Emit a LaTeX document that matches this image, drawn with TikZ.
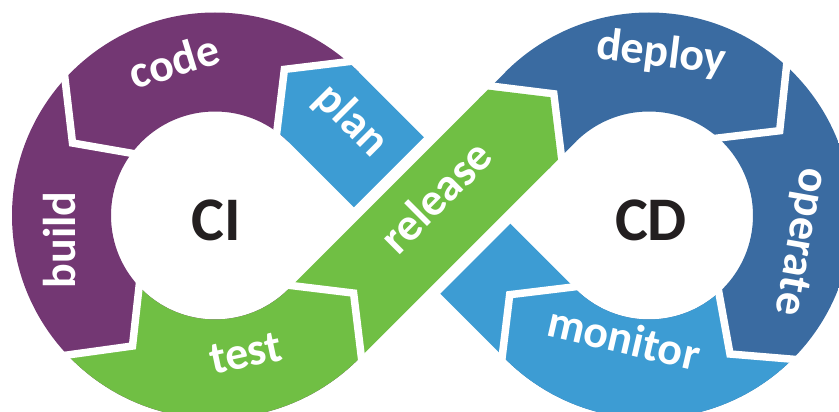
\documentclass[tikz,border=0pt]{standalone}
\usepackage{fontspec}
\setmainfont{Carlito}
\definecolor{cpurple}{HTML}{733773}
\definecolor{clblue}{HTML}{3D9CD3}
\definecolor{cdblue}{HTML}{3A6BA1}
\definecolor{cgreen}{HTML}{70BF44}
\definecolor{cdark}{HTML}{231F20}
\begin{document}
\begin{tikzpicture}[x=1pt,y=-1pt,
  gapline/.style={white,line width=7.5pt,line join=miter,line cap=butt},
  crossgap/.style={white,line width=23pt,line cap=butt},
  lbl/.style={white,font=\fontsize{46}{46}\selectfont\bfseries,anchor=mid,inner sep=0pt},
  big/.style={cdark,font=\fontsize{62}{62}\selectfont\bfseries,inner sep=0pt}]
\useasboundingbox (0,0) rectangle (839,412);
\coordinate (L) at (215,215.5);
\coordinate (R) at (649,215.5);
% ---------- left ring
\begin{scope}[even odd rule]
  \clip (215,215.5) -- (815,-384.5) -- (-500,-384.5) -- (-500,815.5) -- (815,815.5) -- cycle;
  \clip (L) circle (203pt) (L) circle (104pt);
  \fill[cpurple] (-10,-10) rectangle (500,500);
  \fill[cgreen] (141,269.3) -- (132.5,346) -- (48,357.7) -- (40,450) -- (450,450) -- (450,269.3) -- cycle;
  \fill[clblue] (273.8,156.8) -- (284.4,69.4) -- (371.8,58.8) -- (450,0) -- (450,200) -- cycle;
\end{scope}
% ---------- right ring
\begin{scope}[even odd rule]
  \clip (649,215.5) -- (49,-384.5) -- (1500,-384.5) -- (1500,815.5) -- (49,815.5) -- cycle;
  \clip (R) circle (203pt) (R) circle (104pt);
  \fill[cdblue] (400,-10) rectangle (900,500);
  \fill[clblue] (715.7,275.1) -- (730,354) -- (808,360.5) -- (850,450) -- (400,450) -- (400,275.1) -- cycle;
\end{scope}
% ---------- blue band (plan / monitor)
\fill[clblue] (287.8,141.2) -- (357.8,71.2) -- (576.3,289.7) -- (506.3,359.7) -- cycle;
% ---------- end of green band belonging to deploy
\fill[cdblue] (478.8,98.8) -- (506.3,71.3) -- (576.3,141.3) -- (548.8,168.8) -- cycle;
% ---------- chevron gaps
\draw[gapline] (273.8,156.8) -- (284.4,69.4) -- (371.8,58.8);
\draw[gapline] (147.25,156) -- (72.5,143) -- (62.75,59.8);
\draw[gapline] (141,269.3) -- (132.5,346) -- (48,357.7);
\draw[gapline] (699.9,140.2) -- (779.7,130.7) -- (788.3,49.6);
\draw[gapline] (715.7,275.1) -- (730,354) -- (808,360.5);
\draw[gapline] (597.1,284.1) -- (509.7,294.7) -- (499.1,382.1);
% ---------- gaps around the green band
\draw[crossgap] (348.8,228.8) -- (443.8,133.8);
\draw[crossgap] (418.8,298.8) -- (513.8,203.8);
\draw[white,line width=15pt,line join=miter] (456.8,85.6) -- (550.4,97.2) -- (561.8,190.8);
% ---------- green band (test / release)
\fill[cgreen] (288.05,289.55) -- (488,89.6) -- (550.4,97.2) -- (558,159.6) -- (358.05,359.55) -- cycle;
\draw[gapline] (266.2,282.5) -- (353.6,293.1) -- (364.2,380.5);
% ---------- labels
\node[lbl,rotate=17] (code) at (178,74) {code};
\node[lbl,rotate=90] (build) at (73,240) {build};
\node[lbl,rotate=12] (test) at (248,365) {test};
\node[lbl,rotate=-45] (plan) at (344,128) {plan};
\node[lbl,rotate=45] (release) at (445,206) {release};
\node[lbl,rotate=-7] (deploy) at (660,64) {deploy};
\node[lbl,rotate=-100] (operate) at (791,240) {operate};
\node[lbl,rotate=-13] (monitor) at (621,351) {monitor};
\node[big] (ci) at (216,220) {CI};
\node[big] (cd) at (651,220) {CD};
\end{tikzpicture}
\end{document}
